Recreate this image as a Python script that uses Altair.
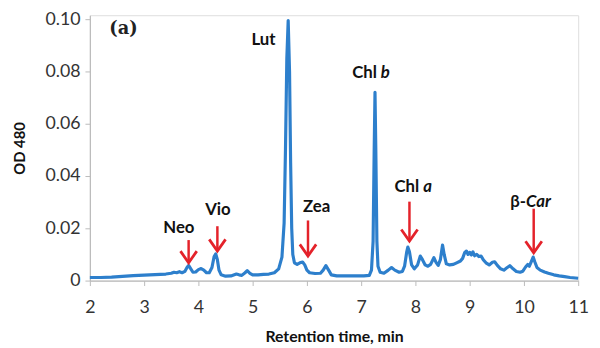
import altair as alt
import pandas as pd

# Chromatogram trace (retention time, min ; OD 480)
time = [2.0, 2.2, 2.4, 2.6, 2.8, 3.0, 3.2, 3.4, 3.5, 3.55, 3.6, 3.65, 3.7, 3.75, 3.79, 3.82, 3.86, 3.9, 3.95,
        4.0, 4.05, 4.1, 4.15, 4.2, 4.25, 4.29, 4.32, 4.35, 4.38, 4.42, 4.5, 4.6, 4.7, 4.75, 4.8, 4.86, 4.9, 4.95,
        5.0, 5.1, 5.2, 5.3, 5.4, 5.48, 5.54, 5.58, 5.605, 5.63, 5.655, 5.68, 5.70, 5.72, 5.74, 5.77, 5.82, 5.87,
        5.92, 5.96, 6.0, 6.05, 6.15, 6.25, 6.3, 6.35, 6.4, 6.45, 6.55, 6.7, 6.9, 7.05, 7.15, 7.19, 7.22, 7.24,
        7.255, 7.27, 7.29, 7.31, 7.35, 7.42, 7.5, 7.56, 7.62, 7.7, 7.76, 7.8, 7.84, 7.86, 7.89, 7.93, 7.98,
        8.04, 8.09, 8.13, 8.18, 8.23, 8.28, 8.34, 8.38, 8.42, 8.46, 8.5, 8.53, 8.57, 8.63, 8.7, 8.76, 8.83,
        8.87, 8.91, 8.94, 8.97, 9.0, 9.03, 9.06, 9.09, 9.13, 9.17, 9.21, 9.25, 9.3, 9.36, 9.42, 9.46, 9.51,
        9.57, 9.63, 9.68, 9.74, 9.8, 9.86, 9.93, 9.98, 10.03, 10.07, 10.1, 10.13, 10.17, 10.2, 10.24, 10.3,
        10.38, 10.45, 10.55, 10.65, 10.75, 10.85, 10.95, 11.0]
od = [0.0012, 0.0012, 0.0013, 0.0016, 0.0019, 0.0021, 0.0023, 0.0025, 0.0028, 0.0032, 0.0030, 0.0034, 0.0030,
      0.0035, 0.0050, 0.0058, 0.0045, 0.0032, 0.0033, 0.0042, 0.0046, 0.0040, 0.0030, 0.0030, 0.0050, 0.0092,
      0.0102, 0.0080, 0.0040, 0.0022, 0.0017, 0.0018, 0.0025, 0.0022, 0.0020, 0.0030, 0.0038, 0.0028, 0.0022,
      0.0022, 0.0024, 0.0025, 0.0030, 0.0045, 0.0090, 0.022, 0.050, 0.085, 0.0995, 0.080, 0.045, 0.020, 0.010,
      0.0068, 0.0062, 0.0068, 0.0071, 0.0060, 0.0040, 0.0030, 0.0027, 0.0028, 0.0040, 0.0057, 0.0040, 0.0022,
      0.0018, 0.0018, 0.0018, 0.0018, 0.0020, 0.0040, 0.015, 0.050, 0.072, 0.050, 0.015, 0.0055, 0.0032,
      0.0028, 0.0040, 0.0050, 0.0040, 0.0032, 0.0035, 0.0055, 0.0110, 0.0128, 0.0110, 0.0060, 0.0045, 0.0060,
      0.0094, 0.0080, 0.0060, 0.0055, 0.0062, 0.0088, 0.0070, 0.0058, 0.0080, 0.0136, 0.0100, 0.0064, 0.0060,
      0.0062, 0.0068, 0.0075, 0.0085, 0.0108, 0.0113, 0.0100, 0.0108, 0.0098, 0.0110, 0.0095, 0.0100, 0.0092,
      0.0094, 0.0080, 0.0068, 0.0060, 0.0070, 0.0072, 0.0058, 0.0045, 0.0040, 0.0048, 0.0057, 0.0045, 0.0035,
      0.0032, 0.0036, 0.0052, 0.0062, 0.0055, 0.0070, 0.0090, 0.0072, 0.0050, 0.0040, 0.0033, 0.0028, 0.0022,
      0.0018, 0.0015, 0.0012, 0.0010, 0.0009]

# Peak labels (plain bold)
label_text = ["Lut", "Neo", "Vio", "Zea"]
label_x = [5.2, 3.64, 4.36, 6.18]
label_y = [0.092, 0.020, 0.0268, 0.0283]

# Labels with an italic part: plain part right-aligned at anchor, italic part after it
chl_plain = ["Chl", "Chl"]
chl_italic = ["b", "a"]
chl_x = [7.29, 8.07]
chl_y = [0.0792, 0.0358]

car_plain = ["\u03b2-"]
car_italic = ["Car"]
car_x = [10.04]
car_y = [0.0302]

# Red arrows (x, start y, tip y)
arrow_x = [3.82, 4.35, 6.02, 7.89, 10.18]
arrow_y1 = [0.0155, 0.0208, 0.0230, 0.0302, 0.0275]
arrow_y2 = [0.0068, 0.0113, 0.0094, 0.0151, 0.0106]

FONT = "Lato, 'Open Sans', DejaVu Sans"
BLUE = "#2d7fcc"
RED = "#e4222a"

xscale = alt.Scale(domain=[2, 11], nice=False, zero=False)
yscale = alt.Scale(domain=[0, 0.1015], nice=False)

trace = pd.DataFrame({"t": time, "od": od})
labels = pd.DataFrame({"t": label_x, "od": label_y, "text": label_text})
chl = pd.DataFrame({"t": chl_x, "od": chl_y, "plain": chl_plain, "ital": chl_italic})
car = pd.DataFrame({"t": car_x, "od": car_y, "plain": car_plain, "ital": car_italic})
arrows = pd.DataFrame({"t": arrow_x, "y1": arrow_y1, "y2": arrow_y2})
panel = pd.DataFrame({"t": [2.62], "od": [0.0962], "text": ["(a)"]})

x_axis = alt.Axis(values=list(range(2, 12)), format="d", title="Retention time, min", grid=False,
                  labelFont=FONT, labelFontSize=18, labelColor="#333333", labelPadding=13,
                  tickSize=5, tickColor="#bbbbbb", domainColor="#bbbbbb", domainWidth=1.2,
                  titleFont=FONT, titleFontSize=16, titleFontWeight="bold", titleColor="#111111",
                  titlePadding=13, labelFlush=False)
y_axis = alt.Axis(values=[0, 0.02, 0.04, 0.06, 0.08, 0.10], title="OD 480", grid=False,
                  labelExpr="datum.value == 0 ? '0' : format(datum.value, '.2f')",
                  labelFont=FONT, labelFontSize=18, labelColor="#333333", labelPadding=5,
                  tickSize=5, tickColor="#bbbbbb", domainColor="#bbbbbb", domainWidth=1.2,
                  titleFont=FONT, titleFontSize=15, titleFontWeight="bold", titleColor="#111111",
                  titlePadding=18)

line = alt.Chart(trace).mark_line(color=BLUE, strokeWidth=3.2, strokeJoin="round").encode(
    x=alt.X("t:Q", scale=xscale, axis=x_axis),
    y=alt.Y("od:Q", scale=yscale, axis=y_axis),
)

def txt(df, field, align, italic=False, dx=0):
    kw = dict(font=FONT, fontSize=17, fontWeight="bold", color="#111111",
              align=align, baseline="middle", dx=dx)
    if italic:
        kw["fontStyle"] = "italic"
    return alt.Chart(df).mark_text(**kw).encode(
        x=alt.X("t:Q", scale=xscale), y=alt.Y("od:Q", scale=yscale), text=f"{field}:N")

lab = txt(labels, "text", "center")
chl_p = txt(chl, "plain", "right")
chl_i = txt(chl, "ital", "left", italic=True, dx=4)
car_p = txt(car, "plain", "right")
car_i = txt(car, "ital", "left", italic=True, dx=0)

shafts = alt.Chart(arrows).mark_rule(color=RED, strokeWidth=2.5).encode(
    x=alt.X("t:Q", scale=xscale), y=alt.Y("y1:Q", scale=yscale), y2="y2:Q")
heads = alt.Chart(arrows).mark_point(shape="M-0.7,-1L0,0L0.7,-1", size=560, filled=False,
                                     color=RED, strokeWidth=2.8, opacity=1).encode(
    x=alt.X("t:Q", scale=xscale), y=alt.Y("y2:Q", scale=yscale))

panel_mark = alt.Chart(panel).mark_text(font="DejaVu Serif, Liberation Serif", fontSize=18, fontWeight="bold",
                                        color="#222222", align="center", baseline="middle").encode(
    x=alt.X("t:Q", scale=xscale), y=alt.Y("od:Q", scale=yscale), text="text:N")

chart = alt.layer(line, lab, chl_p, chl_i, car_p, car_i, shafts, heads, panel_mark).properties(
    width=495, height=269,
    autosize=alt.AutoSizeParams(type="none"),
    padding={"left": 83, "top": 5, "right": 14, "bottom": 66},
).configure_view(stroke=None).configure(background="white")

chart.save("out.html", embed_options={"renderer": "svg", "actions": False})
